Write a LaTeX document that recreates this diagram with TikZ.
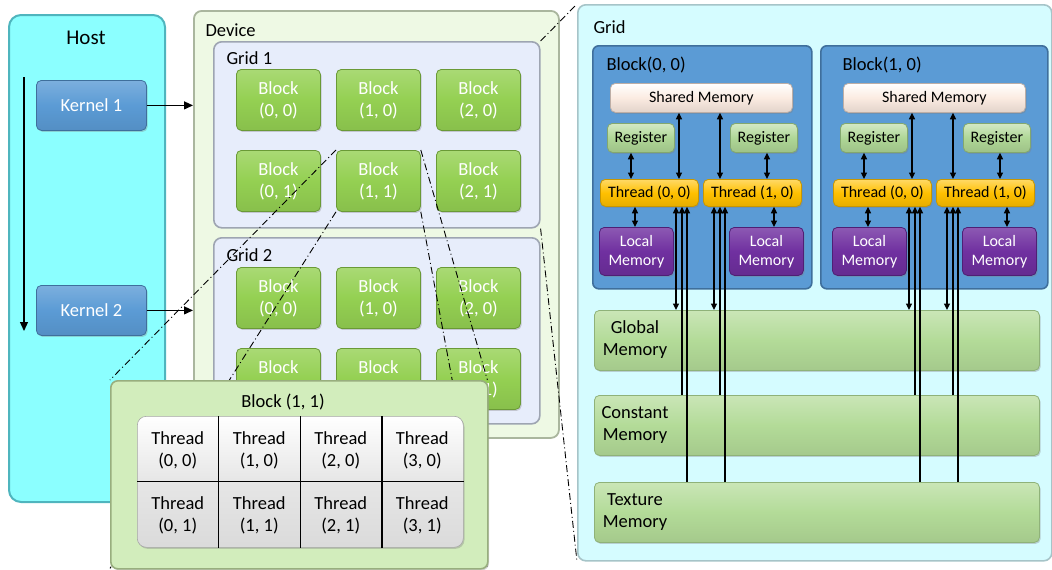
\documentclass[tikz,border=0pt]{standalone}
\usepackage{fontspec}
\setmainfont{Carlito}
\usetikzlibrary{arrows.meta,shadows,calc}
\definecolor{hostc}{HTML}{8BFFFF}
\definecolor{hostd}{HTML}{4FB5BE}
\definecolor{kerc}{HTML}{5B9BD5}
\definecolor{kerd}{HTML}{3F6F9C}
\definecolor{devc}{HTML}{EEF9E4}
\definecolor{devd}{HTML}{AAB69E}
\definecolor{gridc}{HTML}{E7EDFB}
\definecolor{gridd}{HTML}{9EA5B2}
\definecolor{grc}{HTML}{94D052}
\definecolor{grd}{HTML}{6A9A36}
\definecolor{detc}{HTML}{D2EDBC}
\definecolor{detd}{HTML}{98AE7E}
\definecolor{tblc}{HTML}{E6E6E6}
\definecolor{panc}{HTML}{D5FCFF}
\definecolor{pand}{HTML}{A6C4C8}
\definecolor{shc}{HTML}{FBEBE1}
\definecolor{shd}{HTML}{BDAEA6}
\definecolor{regc}{HTML}{AFD796}
\definecolor{regd}{HTML}{83A86E}
\definecolor{thc}{HTML}{FFC000}
\definecolor{thd}{HTML}{C99700}
\definecolor{locc}{HTML}{7030A0}
\definecolor{locd}{HTML}{4F1F75}
\definecolor{memc}{HTML}{B3DB98}
\definecolor{memd}{HTML}{8FB279}
\tikzset{
  bx/.style={rounded corners=5pt, inner sep=0pt, anchor=north west, align=center},
  shd/.style={drop shadow={shadow xshift=1.2pt,shadow yshift=-1.5pt,opacity=.35}},
  f18/.style={font=\fontsize{18.5}{22}\selectfont},
  f16/.style={font=\fontsize{16}{19}\selectfont},
  f21/.style={font=\fontsize{21}{24}\selectfont},
  gblk/.style={bx, shd, f18, text=white, draw=grd, line width=0.8pt,
    top color=grc!80!white, bottom color=grc!92!black, middle color=grc,
    minimum width=84pt, minimum height=61pt},
  ddot/.style={line width=0.9pt, dash pattern=on 7pt off 3pt on 1pt off 3pt},
  con/.style={line width=1.2pt, -{Triangle[length=9pt,width=8pt]}},
  dbl/.style={line width=1.2pt, {Triangle[length=6.5pt,width=6pt]}-{Triangle[length=6.5pt,width=6pt]}},
  up/.style={line width=1.2pt, -{Triangle[length=6.5pt,width=6pt]}},
}
\begin{document}
\begin{tikzpicture}[x=1pt,y=-1pt]
\useasboundingbox (0,0) rectangle (1052,570);
% ---------------- Host
\node[bx, draw=hostd, line width=2pt, fill=hostc, rounded corners=12pt,
      minimum width=156pt, minimum height=487pt] (host) at (8,14) {};
\node[f21] (hostlbl) at (86,38) {Host};
\node[bx, shd, f18, text=white, draw=kerd, line width=0.8pt,
      top color=kerc!80!white, bottom color=kerc!92!black, middle color=kerc,
      minimum width=110pt, minimum height=50pt] (k1) at (36,80) {Kernel 1};
\node[bx, shd, f18, text=white, draw=kerd, line width=0.8pt,
      top color=kerc!80!white, bottom color=kerc!92!black, middle color=kerc,
      minimum width=110pt, minimum height=50pt] (k2) at (36,285) {Kernel 2};
\coordinate (tls) at (24,77);
\coordinate (tle) at (24,331);
\draw[con] (tls) -- (tle);
% ---------------- Device
\node[bx, draw=devd, line width=1.8pt, fill=devc, rounded corners=8pt,
      minimum width=365pt, minimum height=427pt] (dev) at (193,10) {};
\node[f18, anchor=west] (devlbl) at (202,30) {Device};
\draw[con] (k1.east) -- (k1.east -| dev.west);
\draw[con] (k2.east) -- (k2.east -| dev.west);
\node[bx, draw=gridd, line width=1.6pt, fill=gridc, rounded corners=8pt,
      minimum width=326pt, minimum height=186pt] (grid1) at (213,41) {};
\node[f18, anchor=west] (g1lbl) at (223,58) {Grid 1};
\node[bx, draw=gridd, line width=1.6pt, fill=gridc, rounded corners=8pt,
      minimum width=326pt, minimum height=186pt] (grid2) at (213,237) {};
\node[f18, anchor=west] (g2lbl) at (223,255) {Grid 2};
\foreach \g/\gy in {1/69, 2/267} {
  \foreach \c in {0,1,2} {
    \foreach \r in {0,1} {
      \node[gblk] (g\g b\c\r) at ({236+100*\c},{\gy+81*\r}) {Block\\(\c, \r)};
    }
  }
}
% ---------------- Right panel
\node[bx, draw=pand, line width=1.6pt, fill=panc, rounded corners=8pt,
      minimum width=474pt, minimum height=556pt] (pan) at (577,4) {};
\node[f18, anchor=west] (panlbl) at (590,27) {Grid};
% frame of the Block (1,1) detail (drawn later)
\node[bx, minimum width=377pt, minimum height=188pt] (detf) at (110,380) {};
% zoom lines
\draw[ddot] (g1b11.north west) -- (detf.north west);
\draw[ddot] (g1b11.south west) -- (detf.south west);
\draw[ddot] (g1b11.north east) -- (detf.north east);
\draw[ddot] (g1b11.south east) -- (detf.south east);
\draw[ddot] (grid1.north east) -- (pan.north west);
\draw[ddot] (grid1.south east) -- (pan.south west);
% ---------------- Block (1,1) detail
\node[bx, shd, draw=detd, line width=1.6pt, fill=detc, rounded corners=7pt,
      minimum width=377pt, minimum height=188pt] (det) at (110,380) {};
\node[f18] (detlbl) at (283,402) {Block (1, 1)};
\node[bx, shd, draw=black!35, line width=0.6pt, rounded corners=9pt,
      top color=white, bottom color=tblc!95!black, middle color=tblc,
      minimum width=326pt, minimum height=131pt] (tbl) at (137,416) {};
\foreach \f in {0.25,0.5,0.75}
  \draw[line width=1.1pt] ($(tbl.north west)!\f!(tbl.north east)$) -- ($(tbl.south west)!\f!(tbl.south east)$);
\draw[line width=1.1pt] ($(tbl.north west)!0.5!(tbl.south west)$) -- ($(tbl.north east)!0.5!(tbl.south east)$);
\foreach \c in {0,1,2,3} {
  \foreach \r in {0,1} {
    \node[f18, align=center, inner sep=0pt] (th\c\r) at ($(tbl.north west)+({40.75+81.5*\c},{34+65.5*\r})$) {Thread\\(\c, \r)};
  }
}
% ---------------- Memory bars
\foreach \nm/\yy/\txt in {gm/310/Global, cm/395/Constant, tm/482/Texture} {
  \node[bx, shd, draw=memd, line width=0.8pt,
        top color=memc!70!white, bottom color=memc!92!black, middle color=memc,
        minimum width=445pt, minimum height=60pt] (\nm) at (594,\yy) {};
  \node[f18, align=center] (\nm lbl) at (635,{\yy+30}) {\txt\\Memory};
}
% ---------------- Blocks in panel
\node[bx, draw=kerd, line width=1.6pt, fill=kerc, rounded corners=6pt,
      minimum width=219pt, minimum height=243pt] (blk0) at (592,45) {};
\node[bx, draw=kerd, line width=1.6pt, fill=kerc, rounded corners=6pt,
      minimum width=227pt, minimum height=243pt] (blk1) at (820,45) {};
\foreach \b/\dx in {0/0, 1/233} {
  \node[f18, anchor=west] (bl\b) at ({603+\dx+3*\b},65) {Block(\b, 0)};
  \node[bx, shd, f16, draw=shd, line width=0.8pt,
        top color=white, bottom color=shc!90!black, middle color=shc,
        minimum width=182pt, minimum height=29pt] (sh\b) at ({610+\dx},83) {Shared Memory};
  \node[bx, shd, f16, draw=regd, line width=0.8pt,
        top color=regc!55!white, bottom color=regc!90!black, middle color=regc,
        minimum width=67pt, minimum height=29pt] (rl\b) at ({607+\dx},123) {Register};
  \node[bx, shd, f16, draw=regd, line width=0.8pt,
        top color=regc!55!white, bottom color=regc!90!black, middle color=regc,
        minimum width=67pt, minimum height=29pt] (rr\b) at ({730+\dx},123) {Register};
  \node[bx, shd, f16, draw=thd, line width=0.8pt,
        top color=thc!60!white, bottom color=thc!90!black, middle color=thc,
        minimum width=98pt, minimum height=27pt] (tl\b) at ({600+\dx},179) {Thread (0, 0)};
  \node[bx, shd, f16, draw=thd, line width=0.8pt,
        top color=thc!60!white, bottom color=thc!90!black, middle color=thc,
        minimum width=98pt, minimum height=27pt] (tr\b) at ({703+\dx},179) {Thread (1, 0)};
  \node[bx, shd, f16, text=white, draw=locd, line width=0.8pt,
        top color=locc!80!white, bottom color=locc!90!black, middle color=locc,
        minimum width=74pt, minimum height=48pt] (ll\b) at ({599+\dx},227) {Local\\Memory};
  \node[bx, shd, f16, text=white, draw=locd, line width=0.8pt,
        top color=locc!80!white, bottom color=locc!90!black, middle color=locc,
        minimum width=74pt, minimum height=48pt] (lr\b) at ({729+\dx},227) {Local\\Memory};
  % x positions
  \coordinate (xa\b) at ({631+\dx},0);
  \coordinate (xb\b) at ({767+\dx},0);
  \coordinate (xc\b) at ({679+\dx},0);
  \coordinate (xd\b) at ({720+\dx},0);
  \coordinate (xe\b) at ({635+\dx},0);
  \coordinate (xf\b) at ({774+\dx},0);
  \coordinate (xg\b) at ({676+\dx},0);
  \coordinate (xh\b) at ({682+\dx},0);
  \coordinate (xi\b) at ({687+\dx},0);
  \coordinate (xj\b) at ({714+\dx},0);
  \coordinate (xk\b) at ({720+\dx},0);
  \coordinate (xl\b) at ({725+\dx},0);
  \draw[dbl] (rl\b.south -| xa\b) -- (tl\b.north -| xa\b);
  \draw[dbl] (rr\b.south -| xb\b) -- (tr\b.north -| xb\b);
  \draw[dbl] (sh\b.south -| xc\b) -- (tl\b.north -| xc\b);
  \draw[dbl] (sh\b.south -| xd\b) -- (tr\b.north -| xd\b);
  \draw[dbl] (tl\b.south -| xe\b) -- (ll\b.north -| xe\b);
  \draw[dbl] (tr\b.south -| xf\b) -- (lr\b.north -| xf\b);
  \draw[dbl] (tl\b.south -| xg\b) -- (gm.north -| xg\b);
  \draw[up] (cm.north -| xh\b) -- (tl\b.south -| xh\b);
  \draw[up] (tm.north -| xi\b) -- (tl\b.south -| xi\b);
  \draw[dbl] (tr\b.south -| xj\b) -- (gm.north -| xj\b);
  \draw[up] (cm.north -| xk\b) -- (tr\b.south -| xk\b);
  \draw[up] (tm.north -| xl\b) -- (tr\b.south -| xl\b);
}
\end{tikzpicture}
\end{document}
